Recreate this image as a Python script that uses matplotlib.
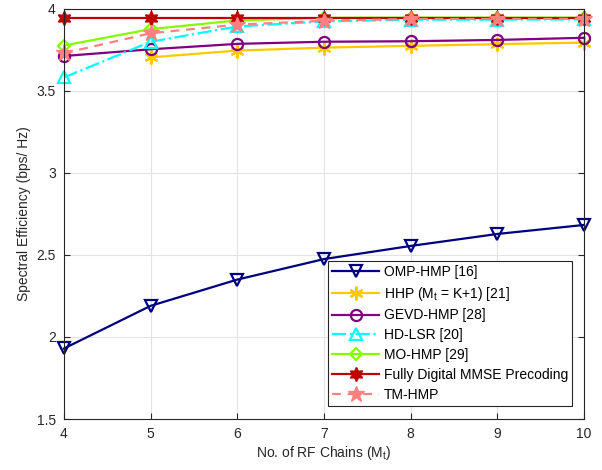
import matplotlib
matplotlib.use("Agg")
import matplotlib.pyplot as plt
import numpy as np

plt.rcParams['font.family'] = ['Liberation Sans', 'DejaVu Sans']
plt.rcParams['mathtext.fontset'] = 'custom'
plt.rcParams['mathtext.rm'] = 'Liberation Sans'
plt.rcParams['mathtext.it'] = 'Liberation Sans'

# number of RF chains
rf_chains = [4, 5, 6, 7, 8, 9, 10]
rf_chains_hhp = [5, 6, 7, 8, 9, 10]

# spectral efficiency (bps/Hz) per scheme
se_omp = [1.93, 2.19, 2.35, 2.475, 2.555, 2.628, 2.683]
se_hhp = [3.705, 3.746, 3.764, 3.775, 3.785, 3.795]
se_gevd = [3.713, 3.754, 3.787, 3.800, 3.803, 3.811, 3.824]
se_hdlsr = [3.582, 3.800, 3.893, 3.924, 3.934, 3.935, 3.936]
se_mo = [3.777, 3.877, 3.930, 3.946, 3.947, 3.947, 3.947]
se_fd = [3.943, 3.943, 3.943, 3.943, 3.943, 3.943, 3.943]
se_tm = [3.730, 3.852, 3.904, 3.928, 3.939, 3.939, 3.940]

legend_labels = ['OMP-HMP [16]', 'HHP (M$_t$ = K+1) [21]', 'GEVD-HMP [28]',
                 'HD-LSR [20]', 'MO-HMP [29]', 'Fully Digital MMSE Precoding',
                 'TM-HMP']

fig = plt.figure(figsize=(6.02, 4.70), dpi=100)
ax = fig.add_axes([0.1063, 0.1085, 0.8637, 0.8725])

lw = 1.6
ax.plot(rf_chains, se_omp, color='#000080', lw=lw, marker='v', ms=8,
        mfc='none', mew=1.6, label=legend_labels[0], clip_on=False)
ax.plot(rf_chains_hhp, se_hhp, color='#FFC800', lw=lw, marker=(6, 2, 0), ms=10,
        mew=1.6, label=legend_labels[1], clip_on=False)
ax.plot(rf_chains, se_gevd, color='#800080', lw=lw, marker='o', ms=8,
        mfc='none', mew=1.6, label=legend_labels[2], clip_on=False)
ax.plot(rf_chains, se_hdlsr, color='#00FFFF', lw=lw, ls='-.', marker='^', ms=8,
        mfc='none', mew=1.6, label=legend_labels[3], clip_on=False)
ax.plot(rf_chains, se_mo, color='#80FF00', lw=lw, marker='D', ms=6.5,
        mfc='none', mew=1.6, label=legend_labels[4], clip_on=False)
ax.plot(rf_chains, se_fd, color='#C00000', lw=lw, marker=(6, 1, 0), ms=10,
        mfc='#C00000', mew=1.2, label=legend_labels[5], clip_on=False)
ax.plot(rf_chains, se_tm, color='#FF8080', lw=lw, ls=(0, (4, 3)), marker='*', ms=12,
        mfc='#FF8080', mew=1.0, label=legend_labels[6], clip_on=False)

ax.set_xlim(4, 10)
ax.set_ylim(1.5, 4)
ax.set_xticks(rf_chains)
ax.set_yticks([1.5, 2, 2.5, 3, 3.5, 4])
ax.set_yticklabels(['1.5', '2', '2.5', '3', '3.5', '4'])
ax.grid(True, color='#e3e3e3', lw=0.8)
ax.set_axisbelow(True)
for s in ax.spines.values():
    s.set_color('#262626')
    s.set_linewidth(0.8)
ax.tick_params(direction='in', top=True, right=True, length=4, labelsize=10,
               colors='#262626', pad=6)

ax.set_xlabel('No. of RF Chains (M$_t$)', fontsize=10, color='#262626', labelpad=2)
ax.set_ylabel('Spectral Efficiency (bps/ Hz)', fontsize=10, color='#262626', labelpad=4)

leg = ax.legend(loc='lower right', bbox_to_anchor=(0.977, 0.032), borderaxespad=0,
                fancybox=False, edgecolor='#262626', framealpha=1, fontsize=10,
                handlelength=3.4, handletextpad=0.3, labelspacing=0.42,
                borderpad=0.3)
leg.get_frame().set_linewidth(0.8)
leg.set_zorder(5)

fig.savefig('out.png', dpi=100)
